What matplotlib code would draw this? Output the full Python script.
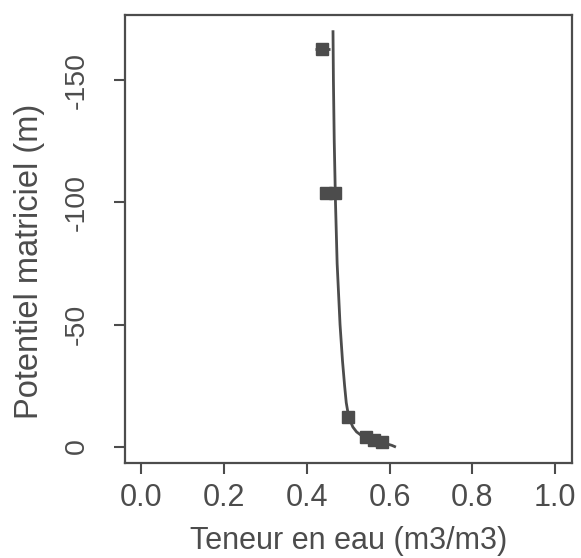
import matplotlib
matplotlib.use("Agg")
import matplotlib.pyplot as plt

# fitted retention curve
curve_h = [-170, -150, -125, -100, -75, -50, -35, -25, -18, -12, -8, -6, -4.5, -3.5, -2.5, -1.5, -0.5, 0]
curve_theta = [0.463, 0.464, 0.466, 0.469, 0.473, 0.480, 0.486, 0.491, 0.495, 0.501, 0.511, 0.520, 0.532, 0.546, 0.564, 0.585, 0.605, 0.612]

# measured points
pt_theta = [0.437, 0.447, 0.468, 0.500, 0.543, 0.563, 0.582]
pt_h = [-163, -104, -104, -12.3, -3.8, -2.8, -2.0]
pt_err = [0.018, 0.012, 0.012, 0.012, 0.010, 0.010, 0.010]

xticks = [0.0, 0.2, 0.4, 0.6, 0.8, 1.0]
yticks = [0, -50, -100, -150]

col = "#4c4c4c"
plt.rcParams['font.family'] = ['Liberation Sans', 'DejaVu Sans']

fig = plt.figure(figsize=(5.81, 5.58), dpi=100)
ax = fig.add_axes([0.215, 0.170, 0.769, 0.803])

ax.plot(curve_theta, curve_h, color=col, lw=2.0)
ax.errorbar(pt_theta, pt_h, xerr=pt_err, fmt='s', color=col, ms=8, elinewidth=2, capsize=0)

ax.set_xlim(-0.04, 1.04)
ax.set_ylim(6.8, -176.8)
ax.set_xticks(xticks)
ax.set_xticklabels([f"{v:.1f}" for v in xticks])
ax.set_yticks(yticks)
ax.set_yticklabels([str(v) for v in yticks], rotation=90, va='center')

for s in ax.spines.values():
    s.set_color(col)
    s.set_linewidth(1.6)
ax.tick_params(colors=col, labelcolor=col, length=8, width=1.5)
ax.tick_params(axis='x', labelsize=22, pad=6)
ax.tick_params(axis='y', labelsize=20.5, pad=17)
ax.set_xlabel("Teneur en eau (m3/m3)", fontsize=22, color=col, labelpad=10)
ax.set_ylabel("Potentiel matriciel (m)", fontsize=23.5, color=col)
ax.yaxis.set_label_coords(-0.179, 0.451)

fig.savefig("out.png", dpi=100)
